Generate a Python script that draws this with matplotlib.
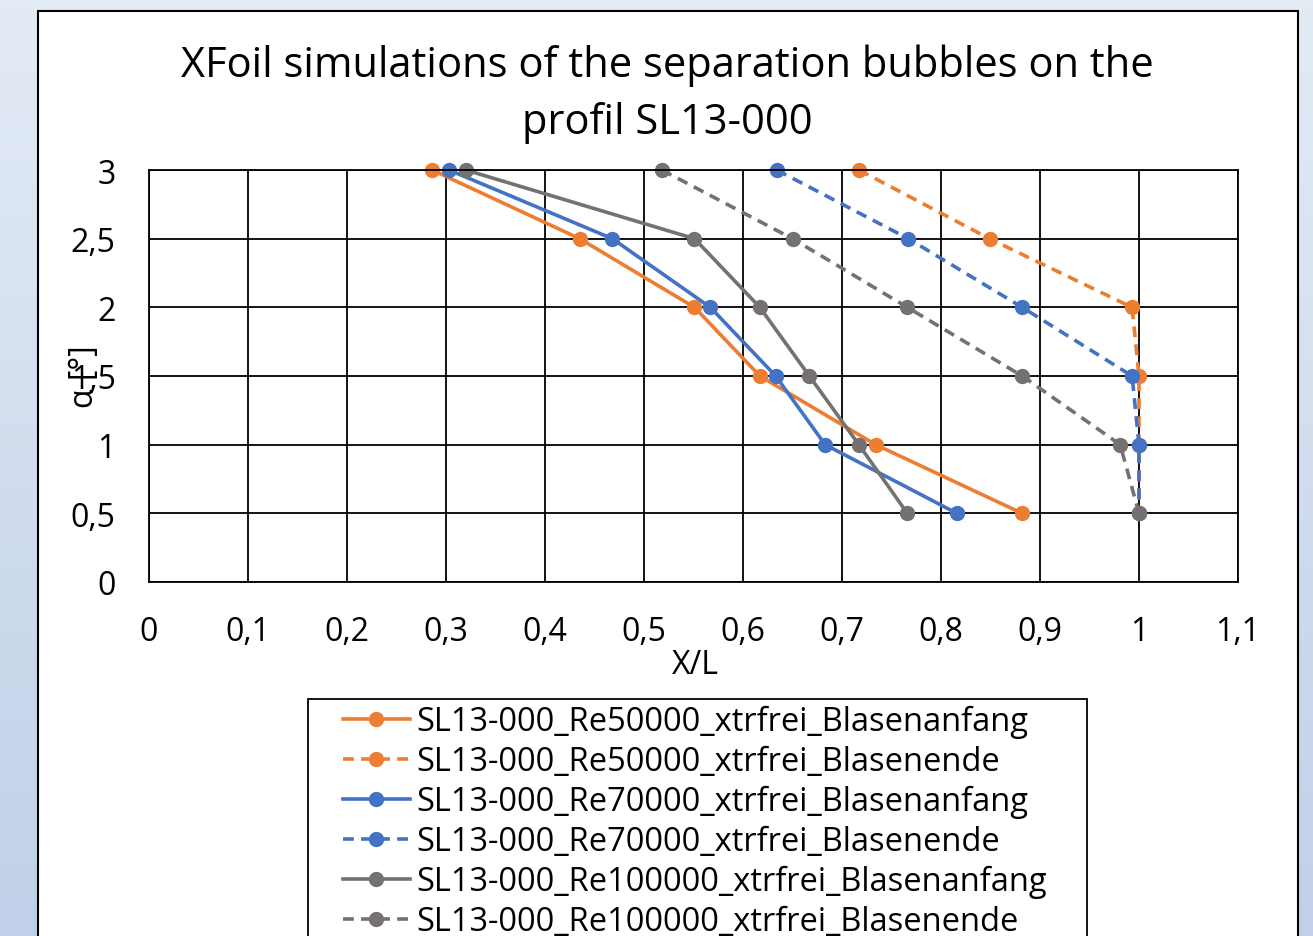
import numpy as np
import matplotlib
matplotlib.use('Agg')
import matplotlib.pyplot as plt
from matplotlib.patches import Rectangle
from matplotlib.ticker import FuncFormatter
from matplotlib.colors import LinearSegmentedColormap

plt.rcParams['font.family'] = ['Open Sans', 'DejaVu Sans']

# Daten (alpha in Grad, X/L)
alpha = [3, 2.5, 2, 1.5, 1, 0.5]
re50_anfang = [0.286, 0.435, 0.551, 0.617, 0.734, 0.882]
re50_ende = [0.717, 0.849, 0.993, 1.0, 1.0, 1.0]
re70_anfang = [0.303, 0.468, 0.567, 0.633, 0.683, 0.816]
re70_ende = [0.634, 0.767, 0.882, 0.993, 1.0, 1.0]
re100_anfang = [0.320, 0.551, 0.617, 0.667, 0.717, 0.766]
re100_ende = [0.518, 0.650, 0.766, 0.882, 0.981, 1.0]

namen = ['SL13-000_Re50000_xtrfrei_Blasenanfang',
         'SL13-000_Re50000_xtrfrei_Blasenende',
         'SL13-000_Re70000_xtrfrei_Blasenanfang',
         'SL13-000_Re70000_xtrfrei_Blasenende',
         'SL13-000_Re100000_xtrfrei_Blasenanfang',
         'SL13-000_Re100000_xtrfrei_Blasenende']

ORANGE = '#ED7D31'
BLAU = '#4472C4'
GRAU = '#767171'

W, H = 1313, 937
fig = plt.figure(figsize=(W / 100, H / 100), dpi=100)

# Hintergrund mit Farbverlauf
bg = fig.add_axes([0, 0, 1, 1])
grad = np.linspace(0, 1, 256).reshape(-1, 1)
cmap = LinearSegmentedColormap.from_list('bg', ['#e3ebf5', '#c0d0e8'])
bg.imshow(grad, aspect='auto', cmap=cmap, extent=[0, 1, 1, 0])
bg.set_axis_off()

# weisser Diagrammbereich
fig.add_artist(Rectangle((38 / W, -0.01), (1298 - 38) / W, 1 - 12 / H + 0.01,
                         transform=fig.transFigure, facecolor='white',
                         edgecolor='black', lw=1.5, zorder=1))

ax = fig.add_axes([149 / W, 1 - 583 / H, (1238 - 149) / W, (583 - 171) / H])
ax.set_zorder(2)

serien = [(re50_anfang, ORANGE, '-'), (re50_ende, ORANGE, '--'),
          (re70_anfang, BLAU, '-'), (re70_ende, BLAU, '--'),
          (re100_anfang, GRAU, '-'), (re100_ende, GRAU, '--')]
for (x, c, ls), name in zip(serien, namen):
    ax.plot(x, alpha, color=c, ls=ls, lw=2.6, marker='o', ms=10,
            label=name, dashes=(3, 2) if ls == '--' else (None, None), clip_on=False)

ax.set_xlim(0, 1.1)
ax.set_ylim(0, 3)
ax.set_xticks(np.arange(0, 1.11, 0.1))
ax.set_yticks(np.arange(0, 3.01, 0.5))
fmt = FuncFormatter(lambda v, p: ('%g' % round(v, 2)).replace('.', ','))
ax.xaxis.set_major_formatter(fmt)
ax.yaxis.set_major_formatter(fmt)
ax.tick_params(length=0, labelsize=23)
ax.tick_params(axis='y', pad=24)
ax.tick_params(axis='x', pad=24)
ax.grid(True, color='black', lw=1.3)
for s in ax.spines.values():
    s.set_color('black')
    s.set_linewidth(1.3)

fig.text(695 / W, 1 - 665 / H, 'X/L', fontsize=23, ha='center', va='center')
fig.text(84 / W, 1 - 377 / H, 'α [°]', rotation=90, fontsize=23,
         ha='center', va='center')

fig.text(667 / W, 1 - 66 / H, 'XFoil simulations of the separation bubbles on the',
         fontsize=30, ha='center', va='center')
fig.text(667 / W, 1 - 123 / H, 'profil SL13-000', fontsize=30, ha='center', va='center')

# Legende (Rahmen separat gezeichnet)
fig.add_artist(Rectangle((308 / W, -0.01), (1087 - 308) / W, 1 - 700 / H + 0.01,
                         transform=fig.transFigure, facecolor='white',
                         edgecolor='black', lw=1.3, zorder=3))
handles, labels = ax.get_legend_handles_labels()
leg = fig.legend(handles, labels, loc='upper left', bbox_to_anchor=(343 / W, 1 - 706 / H),
                 fontsize=23.5, frameon=False, handlelength=2.05, handletextpad=0.2,
                 labelspacing=0.21, borderpad=0, borderaxespad=0)
leg.set_zorder(4)

fig.savefig('out.png', dpi=100)
